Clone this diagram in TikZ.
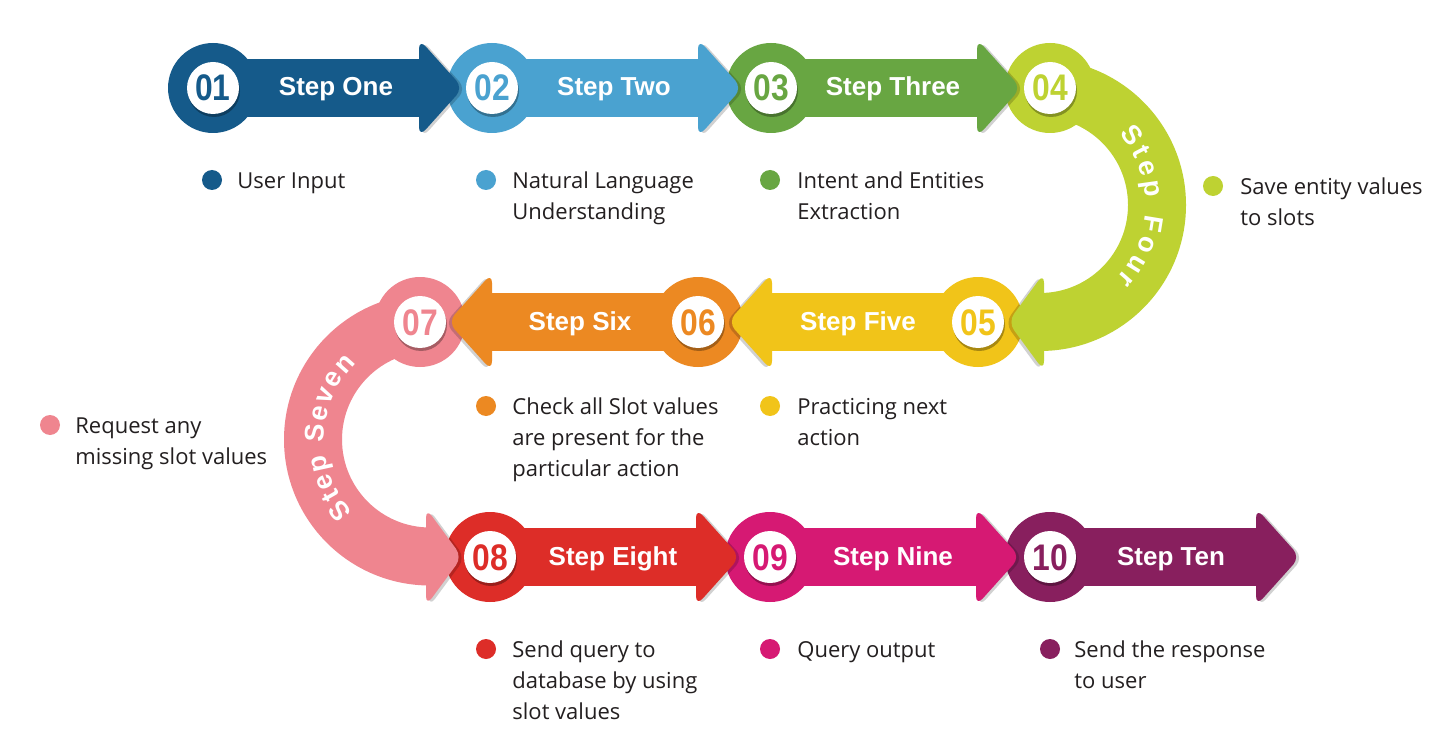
\documentclass[tikz,border=0pt]{standalone}
\usepackage{fontspec}
\setmainfont{Open Sans}
\newfontfamily\stepfont{Liberation Sans}
\newfontfamily\numfont[FakeStretch=0.86]{Liberation Sans}
\usetikzlibrary{decorations.text}
\definecolor{c1}{HTML}{155A8A}
\definecolor{c2}{HTML}{4AA2D0}
\definecolor{c3}{HTML}{68A642}
\definecolor{c4}{HTML}{BED232}
\definecolor{c5}{HTML}{F1C419}
\definecolor{c6}{HTML}{EC8922}
\definecolor{c7}{HTML}{EF858F}
\definecolor{c8}{HTML}{DD2D28}
\definecolor{c9}{HTML}{D61973}
\definecolor{c10}{HTML}{881F5E}
\definecolor{txt}{HTML}{231F20}
\tikzset{
  steplabel/.style={font=\stepfont\bfseries\fontsize{13}{15}\selectfont, text=white, anchor=base, inner sep=0pt},
  numlabel/.style={font=\numfont\bfseries\fontsize{18.5}{22}\selectfont, anchor=base, inner sep=0pt},
  desc/.style={font=\fontsize{11}{15.5}\selectfont, text=txt, anchor=north west, inner sep=0pt, align=left},
  headshade/.style={fill=black, fill opacity=0.18, rounded corners=5},
  headfill/.style={rounded corners=5},
  curvetext/.style={decorate, decoration={text along path, text color=white, text align={fit to path},
     text={|\stepfont\bfseries\fontsize{13.5}{16}\selectfont|#1}}}
}
% arrowhead outline: base x, y, tip x
\newcommand\headpath[3]{(#1,#2+29) -- (#1,#2+49) -- (#3,#2) -- (#1,#2-49) -- (#1,#2-29) -- cycle}
\newcommand\arrowR[3]{%
  \fill[#3] (#1,#2) circle[radius=45];
  \fill[#3] (#1,#2-29) rectangle (#1+208,#2+29);
  \fill[headshade, shift={(3,-1)}] \headpath{#1+206}{#2}{#1+250};
  \fill[#3, headfill] \headpath{#1+206}{#2}{#1+250};}
\newcommand\arrowL[3]{%
  \fill[#3] (#1,#2) circle[radius=45];
  \fill[#3] (#1-208,#2-29) rectangle (#1,#2+29);
  \fill[headshade, shift={(-3,-1)}] \headpath{#1-206}{#2}{#1-250};
  \fill[#3, headfill] \headpath{#1-206}{#2}{#1-250};}
\newcommand\badge[4]{%
  \fill[black, opacity=0.3] (#1+1,#2-3) circle[radius=26];
  \fill[white] (#1,#2) circle[radius=26];
  \node[numlabel, text=#3] (n#4) at (#1,#2-13) {#4};}
\newcommand\dotmark[3]{\fill[#3] (#1,#2) circle[radius=10];}

\begin{document}
\begin{tikzpicture}[x=0.5pt, y=0.5pt]
\fill[white] (0,0) rectangle (1450,-754);
\useasboundingbox (0,0) rectangle (1450,-754);

% row 3
\arrowR{1050}{-557}{c10}
\arrowR{770}{-557}{c9}
\arrowR{490}{-557}{c8}

% step seven curve
\fill[c7] (420,-322) circle[radius=45];
\fill[c7] (430,-293.5) arc[start angle=90, end angle=270, radius=146] -- ++(0,58)
   arc[start angle=270, end angle=90, radius=88] -- cycle;
\fill[headshade, shift={(3,-1)}] \headpath{426}{-557}{462};
\fill[c7, headfill] \headpath{426}{-557}{462};

% row 2
\arrowL{698}{-322}{c6}
\arrowL{978}{-322}{c5}

% step four curve
\fill[c4] (1050,-88) circle[radius=45];
\fill[c4] (1040,-59) arc[start angle=90, end angle=-90, radius=146] -- ++(0,58)
   arc[start angle=-90, end angle=90, radius=88] -- cycle;
\fill[headshade, shift={(-3,-1)}] \headpath{1044}{-322}{1008};
\fill[c4, headfill] \headpath{1044}{-322}{1008};

% row 1
\arrowR{771}{-88}{c3}
\arrowR{492}{-88}{c2}
\arrowR{213}{-88}{c1}

% badges
\badge{213}{-88}{c1}{01}
\badge{492}{-88}{c2}{02}
\badge{771}{-88}{c3}{03}
\badge{1050}{-88}{c4}{04}
\badge{978}{-322}{c5}{05}
\badge{698}{-322}{c6}{06}
\badge{420}{-322}{c7}{07}
\badge{490}{-557}{c8}{08}
\badge{770}{-557}{c9}{09}
\badge{1050}{-557}{c10}{10}

% step labels
\node[steplabel] (s1) at (336,-96) {Step One};
\node[steplabel] (s2) at (614,-96) {Step Two};
\node[steplabel] (s3) at (893,-96) {Step Three};
\node[steplabel] (s5) at (858,-330) {Step Five};
\node[steplabel] (s6) at (580,-330) {Step Six};
\node[steplabel] (s8) at (613,-565) {Step Eight};
\node[steplabel] (s9) at (893,-565) {Step Nine};
\node[steplabel] (s10) at (1171,-565) {Step Ten};
\path[curvetext={Step Four}] (1040,-205) ++(42:106) arc[start angle=42, end angle=-44, radius=106];
\path[curvetext={Step Seven}] (430,-439.5) ++(223:106) arc[start angle=223, end angle=134, radius=106];

% descriptions
\dotmark{212}{-180}{c1}
\node[desc] (d1) at (237,-166.3) {\strut User Input};
\dotmark{486}{-180}{c2}
\node[desc] (d2) at (512,-166.3) {\strut Natural Language\\Understanding};
\dotmark{770}{-180}{c3}
\node[desc] (d3) at (797,-166.3) {\strut Intent and Entities\\Extraction};
\dotmark{1213}{-186}{c4}
\node[desc] (d4) at (1240,-172.3) {\strut Save entity values\\to slots};
\dotmark{486}{-406}{c6}
\node[desc] (d6) at (512,-392.3) {\strut Check all Slot values\\are present for the\\particular action};
\dotmark{770}{-406}{c5}
\node[desc] (d5) at (797,-392.3) {\strut Practicing next\\action};
\dotmark{50}{-425}{c7}
\node[desc] (d7) at (75,-411.3) {\strut Request any\\missing slot values};
\dotmark{486}{-649}{c8}
\node[desc] (d8) at (512,-635.3) {\strut Send query to\\database by using\\slot values};
\dotmark{770}{-649}{c9}
\node[desc] (d9) at (797,-635.3) {\strut Query output};
\dotmark{1050}{-649}{c10}
\node[desc] (d10) at (1074,-635.3) {\strut Send the response\\to user};
\end{tikzpicture}
\end{document}
